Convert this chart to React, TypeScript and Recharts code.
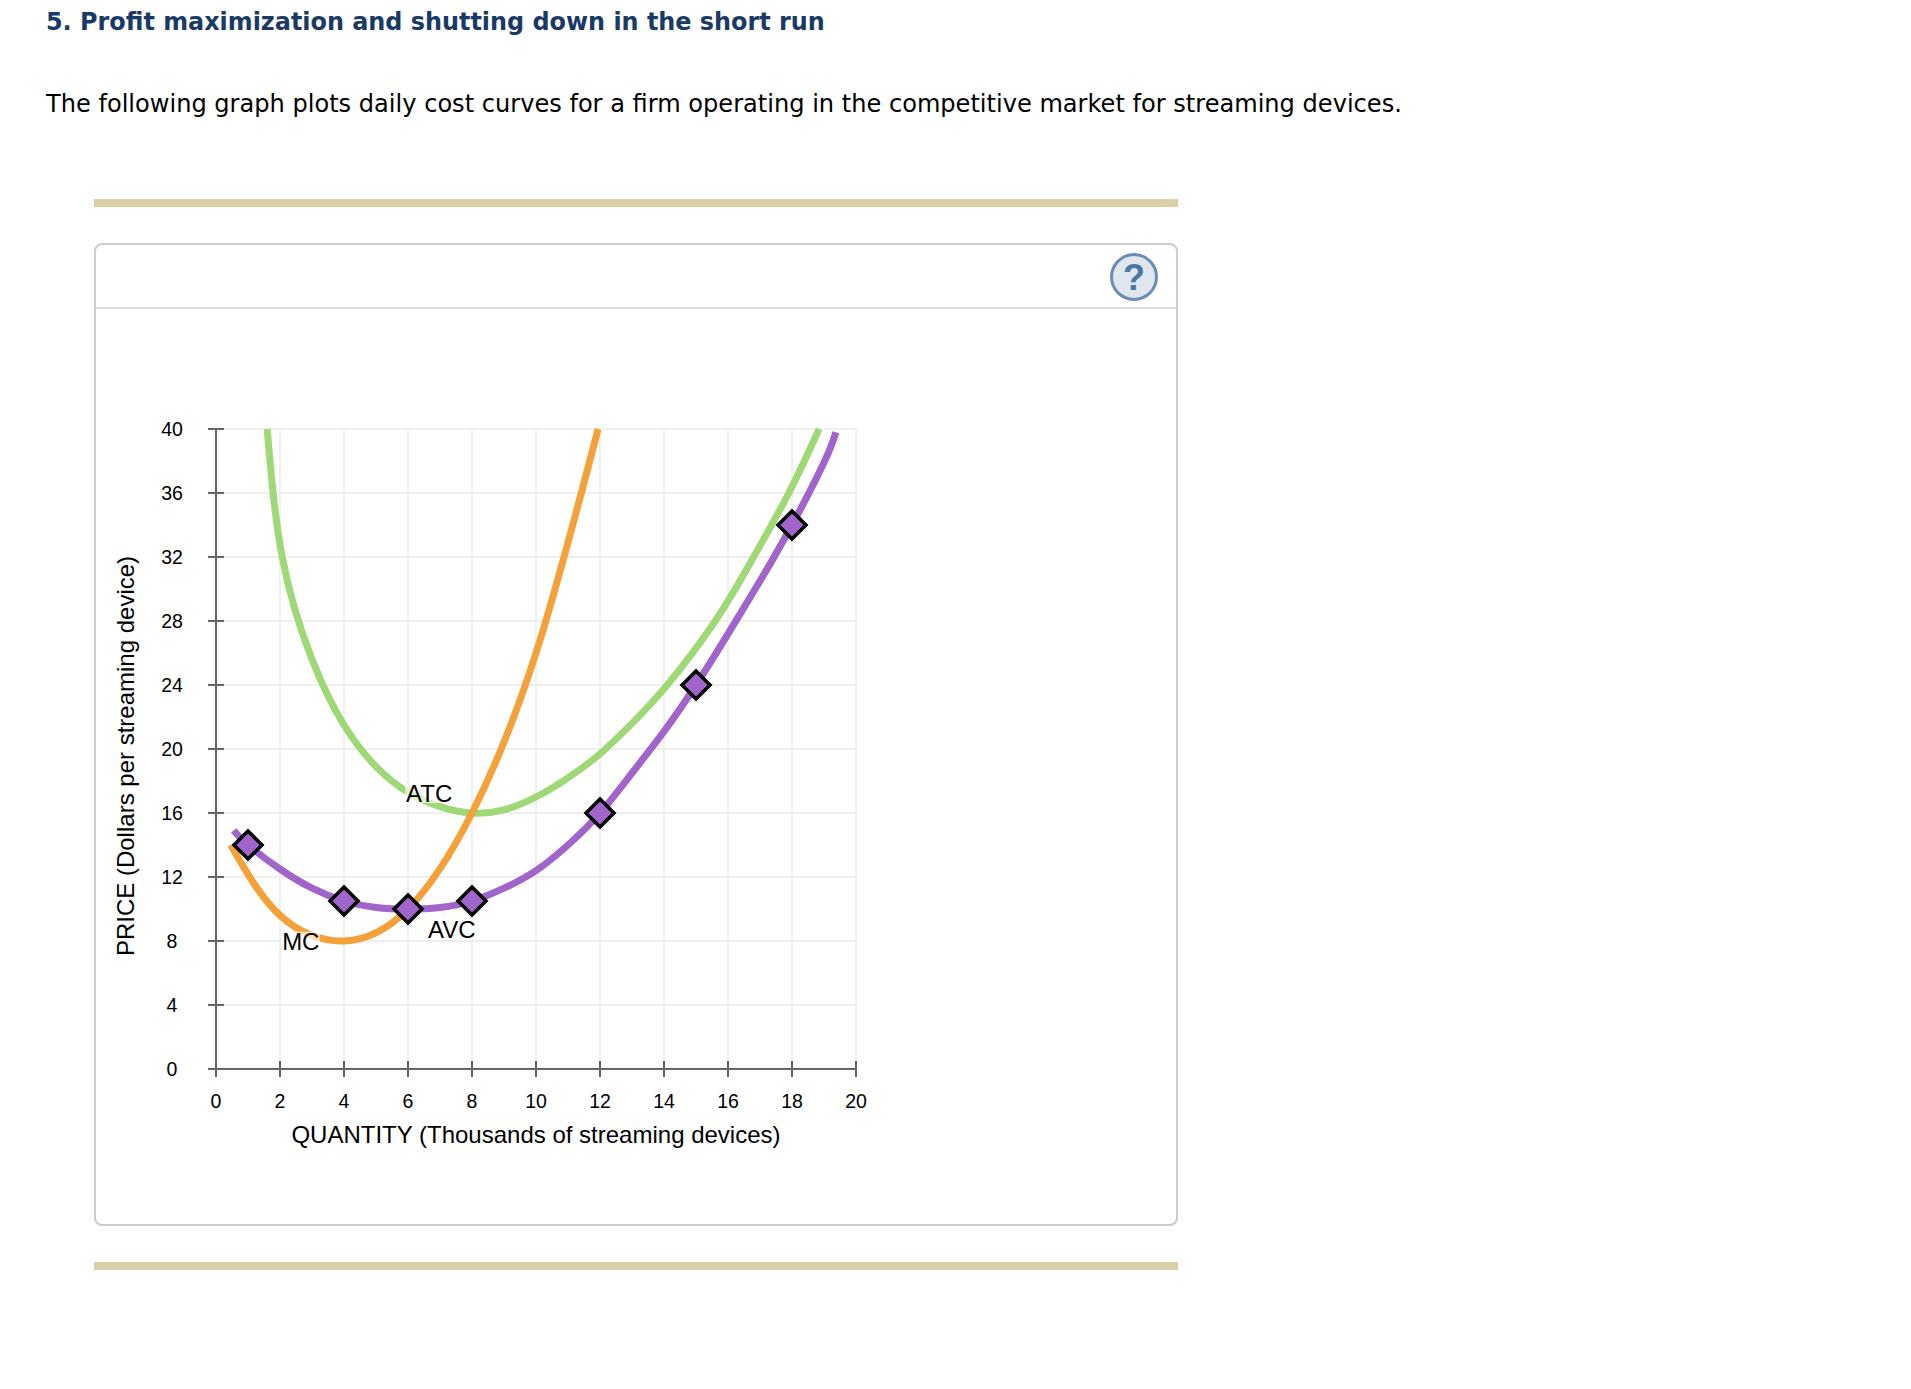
import React from "react";
import { ComposedChart, Line, Scatter, XAxis, YAxis, CartesianGrid } from "recharts";

const xTicks = [0, 2, 4, 6, 8, 10, 12, 14, 16, 18, 20];
const yTicks = [0, 4, 8, 12, 16, 20, 24, 28, 32, 36, 40];

const mcX = [0.46, 2, 4, 6, 8, 10, 11.94];
const mcY = [14, 9.6, 8, 10, 16, 26, 40];
const atcX = [1.6, 2.07, 3, 4, 5, 6, 7, 8, 9, 10, 11, 12, 13, 14.1, 15.6, 16.8, 17.9, 18.85];
const atcY = [40, 32, 25.6, 21.5, 18.9, 17.3, 16.4, 16, 16.2, 17, 18.2, 19.7, 21.6, 24, 28, 32, 36, 40];
const avcX = [0.55, 1, 2, 3, 4, 5, 6, 7, 8, 9, 10, 11, 12, 13, 14, 15, 16, 17, 18, 19, 19.37];
const avcY = [14.9, 14, 12.5, 11.3, 10.5, 10.1, 10, 10.1, 10.5, 11.3, 12.4, 14, 16, 18.5, 21.1, 24, 27.2, 30.5, 34, 37.9, 39.8];
const markerX = [1, 4, 6, 8, 12, 15, 18];
const markerY = [14, 10.5, 10, 10.5, 16, 24, 34];
const labelText = ["ATC", "MC", "AVC"];
const labelX = [6.66, 2.65, 7.37];
const labelY = [17.25, 7.96, 8.75];

const zip = (xs: number[], ys: number[]) => xs.map((x, i) => ({ x, y: ys[i] }));
const mcData = zip(mcX, mcY);
const atcData = zip(atcX, atcY);
const avcData = zip(avcX, avcY);
const markerData = zip(markerX, markerY);
const labelData = labelText.map((t, i) => ({ x: labelX[i], y: labelY[i], t }));

const FONT = "'Liberation Sans', Arial, sans-serif";
const L = 216, T = 429, R = 856, B = 1069;
const W = 1911, H = 1389;

const XTick = (p: any) => (
  <g>
    <line x1={p.x} x2={p.x} y1={B - 8} y2={B + 8} stroke="#666" strokeWidth={2} />
    <text x={p.x} y={B + 39} textAnchor="middle" fontSize={19.5} fontFamily={FONT} fill="#000">{p.payload.value}</text>
  </g>
);
const YTick = (p: any) => (
  <g>
    <line x1={L - 8} x2={L + 8} y1={p.y} y2={p.y} stroke="#666" strokeWidth={2} />
    <text x={172} y={p.y + 6.5} textAnchor="middle" fontSize={19.5} fontFamily={FONT} fill="#000">{p.payload.value}</text>
  </g>
);
const Diamond = (p: any) => (
  <path d={`M${p.cx} ${p.cy - 14}L${p.cx + 14} ${p.cy}L${p.cx} ${p.cy + 14}L${p.cx - 14} ${p.cy}Z`} fill="#a064cb" stroke="#000" strokeWidth={3.5} />
);
const CurveLabel = (p: any) => {
  const w = p.payload.t.length === 2 ? 38 : 48;
  return (
    <g>
      <rect x={p.cx - w / 2} y={p.cy - 10} width={w} height={20} fill="#fff" fillOpacity={0.65} />
      <text x={p.cx} y={p.cy + 8.5} textAnchor="middle" fontSize={24} fontFamily={FONT} fill="#000">{p.payload.t}</text>
    </g>
  );
};

const abs = (s: React.CSSProperties): React.CSSProperties => ({ position: "absolute", boxSizing: "border-box", ...s });

export default function App() {
  return (
    <div style={abs({ left: 0, top: 0, width: W, height: H, background: "#fff", overflow: "hidden" })}>
      <div style={abs({ left: 46, top: 8, fontFamily: "'DejaVu Sans'", fontWeight: 700, fontSize: 23.9, color: "#1a3a66", whiteSpace: "nowrap" })}>
        5. Profit maximization and shutting down in the short run
      </div>
      <div style={abs({ left: 46, top: 90, fontFamily: "'DejaVu Sans'", fontSize: 24.08, color: "#000", whiteSpace: "nowrap" })}>
        The following graph plots daily cost curves for a firm operating in the competitive market for streaming devices.
      </div>
      <div style={abs({ left: 94, top: 199, width: 1084, height: 8, background: "#d9cfa8" })} />
      <div style={abs({ left: 94, top: 1262, width: 1084, height: 8, background: "#d9cfa8" })} />
      <div style={abs({ left: 94, top: 243, width: 1084, height: 983, border: "2px solid #ccc", borderRadius: 8 })} />
      <div style={abs({ left: 96, top: 307, width: 1080, height: 2, background: "#ddd" })} />
      <div style={abs({ left: 1110, top: 253, width: 48, height: 48, borderRadius: 24, background: "#dfe6ee", border: "3px solid #6a8db5", color: "#4a77a8", fontFamily: FONT, fontWeight: 700, fontSize: 36, lineHeight: "44px", textAlign: "center" })}>?</div>
      <div style={abs({ left: 0, top: 0 })}>
        <ComposedChart width={W} height={H} margin={{ left: 0, top: T, right: W - R, bottom: 0 }} data={markerData}>
          <CartesianGrid stroke="#efefef" strokeWidth={2} horizontalValues={yTicks} verticalValues={xTicks} />
          <XAxis type="number" dataKey="x" domain={[0, 20]} ticks={xTicks} interval={0} height={H - B} tickSize={0} tickMargin={0}
            tick={XTick} stroke="#666" strokeWidth={2}
            label={{ content: () => <text x={536} y={1143} textAnchor="middle" fontSize={24} fontFamily={FONT} fill="#000">QUANTITY (Thousands of streaming devices)</text> }} />
          <YAxis type="number" dataKey="y" domain={[0, 40]} ticks={yTicks} interval={0} width={L} tickSize={0} tickMargin={0}
            tick={YTick} stroke="#666" strokeWidth={2}
            label={{ content: () => <text x={0} y={0} transform="translate(134 756) rotate(-90)" textAnchor="middle" fontSize={24} fontFamily={FONT} fill="#000">PRICE (Dollars per streaming device)</text> }} />
          <Line data={atcData} dataKey="y" type="natural" stroke="#9fd877" strokeWidth={7} dot={false} activeDot={false} isAnimationActive={false} />
          <Line data={mcData} dataKey="y" type="natural" stroke="#f4a13a" strokeWidth={7} dot={false} activeDot={false} isAnimationActive={false} />
          <Line data={avcData} dataKey="y" type="natural" stroke="#a064cb" strokeWidth={7} dot={false} activeDot={false} isAnimationActive={false} />
          <Scatter data={labelData} dataKey="y" shape={CurveLabel} isAnimationActive={false} />
          <Scatter data={markerData} dataKey="y" shape={Diamond} isAnimationActive={false} />
        </ComposedChart>
      </div>
    </div>
  );
}
